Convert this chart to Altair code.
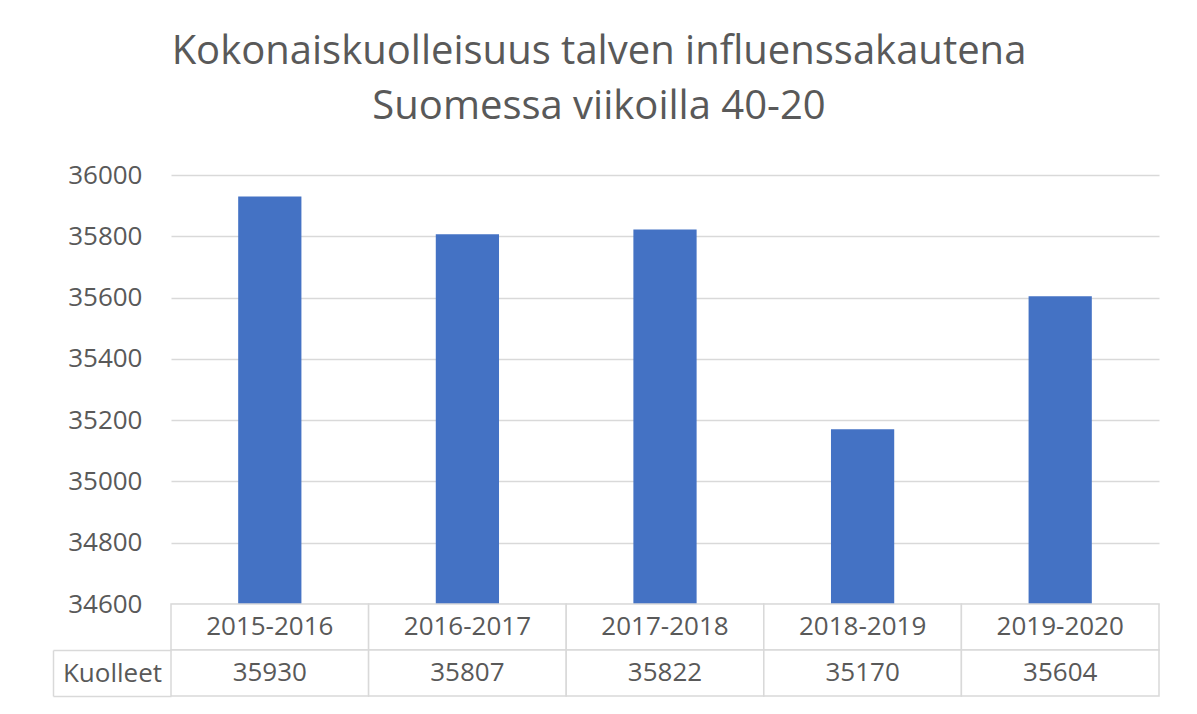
import altair as alt
import pandas as pd

# ---- data ----
seasons = ["2015-2016", "2016-2017", "2017-2018", "2018-2019", "2019-2020"]
deaths = [35930, 35807, 35822, 35170, 35604]
y_ticks = [34600, 34800, 35000, 35200, 35400, 35600, 35800, 36000]
row_label = "Kuolleet"
header_row = "Kausi"
title_lines = ["Kokonaiskuolleisuus talven influenssakautena", "Suomessa viikoilla 40-20"]

FONT = "Open Sans"
GREY = "#595959"
LINE = "#d9d9d9"
BLUE = "#4472c4"
FS = 26
LABEL_COL = 118   # width of the "Kuolleet" header cell
ROW_H = 46

df = pd.DataFrame({"season": seasons, "deaths": deaths})

table_df = pd.DataFrame({
    "season": seasons + seasons,
    "row": [header_row] * len(seasons) + [row_label] * len(seasons),
    "text": seasons + [str(v) for v in deaths],
})

# ---- bar chart ----
bars = alt.Chart(df).mark_bar(color=BLUE).encode(
    x=alt.X("season:N", sort=seasons,
            scale=alt.Scale(domain=seasons, paddingInner=0.68, paddingOuter=0.34),
            axis=None),
    y=alt.Y("deaths:Q",
            scale=alt.Scale(domain=[y_ticks[0], y_ticks[-1]], zero=False, nice=False),
            axis=alt.Axis(values=y_ticks, format="d", title=None, domain=False, ticks=False,
                          grid=True, gridColor=LINE, gridWidth=1.5,
                          labelFont=FONT, labelFontSize=FS, labelColor=GREY,
                          labelPadding=29)),
    y2=alt.datum(y_ticks[0]),
).properties(width=988, height=429)

# ---- data table ----
row_scale = alt.Scale(domain=[header_row, row_label], paddingInner=0, paddingOuter=0)
col_scale = alt.Scale(domain=seasons, paddingInner=0, paddingOuter=0)

# y axis draws the "Kuolleet" header cell (its horizontal borders and its text)
row_axis = alt.Axis(values=[row_label], title=None, domain=False,
                    ticks=True, tickBand="extent", tickSize=LABEL_COL,
                    tickColor=LINE, tickWidth=1.5,
                    labelFont=FONT, labelFontSize=FS, labelColor=GREY,
                    labelAlign="center", labelBaseline="middle",
                    labelPadding=-LABEL_COL / 2)
# x axis draws the left border of the "Kuolleet" header cell
col_axis = alt.Axis(orient="top", offset=-2 * ROW_H, values=[seasons[0]], bandPosition=0,
                    tickOffset=-LABEL_COL, tickSize=ROW_H, tickColor=LINE, tickWidth=1.5,
                    labels=False, domain=False, title=None, grid=False)

cells = alt.Chart(table_df).mark_rect(fill="white", stroke=LINE, strokeWidth=1.5).encode(
    x=alt.X("season:N", scale=col_scale, axis=col_axis),
    y=alt.Y("row:N", scale=row_scale, axis=row_axis),
)
cell_text = alt.Chart(table_df).mark_text(font=FONT, fontSize=FS, color=GREY,
                                          baseline="middle").encode(
    x=alt.X("season:N", scale=col_scale),
    y=alt.Y("row:N", scale=row_scale),
    text="text:N",
)
table = (cells + cell_text).properties(width=988, height=2 * ROW_H)

chart = alt.vconcat(bars, table, spacing=0, bounds="flush").properties(
    title=alt.TitleParams(text=title_lines, font=FONT, fontSize=40, fontWeight="normal",
                          color=GREY, anchor="middle", lineHeight=55, offset=35, dx=-7),
    padding={"left": 44, "top": 24, "right": 20, "bottom": 10},
).configure_view(stroke=None)

chart.save("out.html", embed_options={"renderer": "svg", "actions": False})
